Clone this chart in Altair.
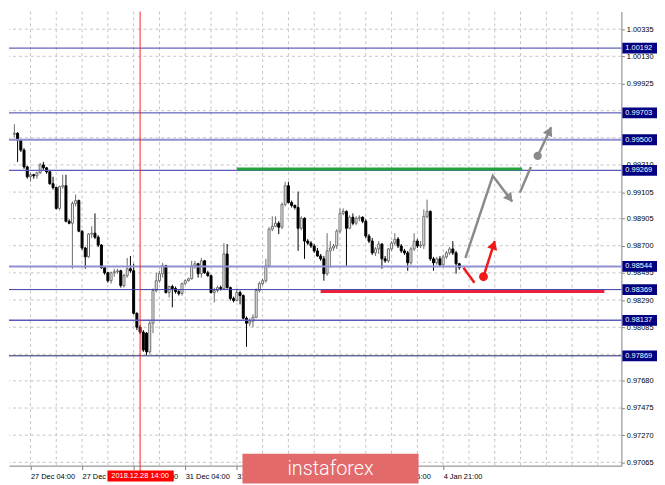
import math
import altair as alt
import pandas as pd

# ---------------- data (H1 candles, bar index = hours from 27 Dec 04:00) ----------------
FIRST_BAR = -7
opens = [0.99393, 0.99505, 0.99542, 0.99549, 0.99497, 0.99422, 0.99295, 0.99221, 0.99236, 0.99228,
         0.99251, 0.99310, 0.99288, 0.99258, 0.99168, 0.99139, 0.98982, 0.99146, 0.99153, 0.98885,
         0.98870, 0.99019, 0.99041, 0.98810, 0.98683, 0.98616, 0.98788, 0.98795, 0.98765, 0.98705,
         0.98534, 0.98496, 0.98436, 0.98496, 0.98504, 0.98511, 0.98399, 0.98474, 0.98526, 0.98511,
         0.98190, 0.98085, 0.98048, 0.98040, 0.97899, 0.98115, 0.98362, 0.98436, 0.98489, 0.98549,
         0.98347, 0.98392, 0.98377, 0.98354, 0.98339, 0.98414, 0.98436, 0.98451, 0.98549, 0.98564,
         0.98489, 0.98586, 0.98496, 0.98474, 0.98347, 0.98362, 0.98384, 0.98377, 0.98638, 0.98384,
         0.98302, 0.98287, 0.98347, 0.98324, 0.98153, 0.98115, 0.98130, 0.98160, 0.98362, 0.98414,
         0.98436, 0.98549, 0.98825, 0.98847, 0.98870, 0.98840, 0.99012, 0.99153, 0.99026, 0.99004,
         0.98989, 0.98832, 0.98907, 0.98735, 0.98720, 0.98698, 0.98661, 0.98623, 0.98601, 0.98489,
         0.98661, 0.98683, 0.98698, 0.98810, 0.98944, 0.98959, 0.98832, 0.98915, 0.98870, 0.98907,
         0.98915, 0.98885, 0.98773, 0.98735, 0.98646, 0.98676, 0.98713, 0.98601, 0.98586, 0.98676,
         0.98720, 0.98750, 0.98698, 0.98661, 0.98646, 0.98571, 0.98676, 0.98735, 0.98698, 0.98705,
         0.98922, 0.98959, 0.98601, 0.98571, 0.98601, 0.98556, 0.98616, 0.98646, 0.98676, 0.98646,
         0.98564]
highs = [0.99535, 0.99609, 0.99617, 0.99557, 0.99505, 0.99437, 0.99303, 0.99251, 0.99243, 0.99258,
         0.99325, 0.99333, 0.99295, 0.99273, 0.99221, 0.99146, 0.99153, 0.99236, 0.99236, 0.98900,
         0.99034, 0.99086, 0.99049, 0.98817, 0.98690, 0.98795, 0.98847, 0.98944, 0.98780, 0.98713,
         0.98541, 0.98504, 0.98504, 0.98526, 0.98526, 0.98519, 0.98489, 0.98608, 0.98623, 0.98564,
         0.98197, 0.98100, 0.98063, 0.98048, 0.98138, 0.98377, 0.98496, 0.98511, 0.98571, 0.98556,
         0.98399, 0.98406, 0.98392, 0.98369, 0.98421, 0.98444, 0.98459, 0.98586, 0.98586, 0.98571,
         0.98608, 0.98593, 0.98511, 0.98481, 0.98384, 0.98399, 0.98399, 0.98720, 0.98713, 0.98392,
         0.98317, 0.98377, 0.98362, 0.98332, 0.98167, 0.98153, 0.98182, 0.98377, 0.98429, 0.98451,
         0.98601, 0.98840, 0.98922, 0.98922, 0.98885, 0.99026, 0.99183, 0.99183, 0.99041, 0.99012,
         0.99109, 0.98922, 0.98915, 0.98750, 0.98735, 0.98713, 0.98683, 0.98638, 0.98623, 0.98795,
         0.98735, 0.98713, 0.98825, 0.98982, 0.98982, 0.98967, 0.98930, 0.98944, 0.98922, 0.98930,
         0.98922, 0.98900, 0.98788, 0.98758, 0.98690, 0.98735, 0.98720, 0.98623, 0.98683, 0.98735,
         0.98795, 0.98765, 0.98713, 0.98676, 0.98661, 0.98690, 0.98795, 0.98750, 0.98735, 0.98974,
         0.99049, 0.98967, 0.98616, 0.98616, 0.98623, 0.98631, 0.98661, 0.98690, 0.98735, 0.98661,
         0.98571]
lows = [0.99348, 0.99490, 0.99520, 0.99333, 0.99408, 0.99281, 0.99206, 0.99183, 0.99206, 0.99206,
        0.99243, 0.99273, 0.99243, 0.99161, 0.99124, 0.98974, 0.98967, 0.99131, 0.98877, 0.98862,
        0.98526, 0.98997, 0.98802, 0.98668, 0.98526, 0.98608, 0.98758, 0.98750, 0.98690, 0.98526,
        0.98481, 0.98421, 0.98414, 0.98466, 0.98489, 0.98384, 0.98384, 0.98459, 0.98496, 0.98182,
        0.98063, 0.98033, 0.97899, 0.97876, 0.97884, 0.98040, 0.98347, 0.98421, 0.98459, 0.98339,
        0.98309, 0.98235, 0.98339, 0.98324, 0.98324, 0.98406, 0.98429, 0.98444, 0.98526, 0.98459,
        0.98459, 0.98489, 0.98466, 0.98339, 0.98272, 0.98347, 0.98362, 0.98369, 0.98377, 0.98287,
        0.98272, 0.98280, 0.98257, 0.98145, 0.97936, 0.98093, 0.98085, 0.98153, 0.98347, 0.98399,
        0.98421, 0.98534, 0.98810, 0.98840, 0.98788, 0.98825, 0.98997, 0.99019, 0.98989, 0.98974,
        0.98661, 0.98817, 0.98601, 0.98705, 0.98683, 0.98646, 0.98616, 0.98586, 0.98436, 0.98474,
        0.98534, 0.98661, 0.98676, 0.98795, 0.98930, 0.98549, 0.98825, 0.98855, 0.98855, 0.98885,
        0.98870, 0.98758, 0.98720, 0.98631, 0.98623, 0.98638, 0.98526, 0.98571, 0.98571, 0.98661,
        0.98705, 0.98683, 0.98646, 0.98631, 0.98511, 0.98556, 0.98661, 0.98683, 0.98683, 0.98676,
        0.98907, 0.98586, 0.98511, 0.98556, 0.98541, 0.98541, 0.98601, 0.98631, 0.98631, 0.98489,
        0.98519]
closes = [0.99505, 0.99542, 0.99549, 0.99497, 0.99422, 0.99295, 0.99221, 0.99236, 0.99228, 0.99251,
          0.99310, 0.99288, 0.99258, 0.99168, 0.99139, 0.98982, 0.99146, 0.99153, 0.98885, 0.98870,
          0.99019, 0.99041, 0.98810, 0.98683, 0.98616, 0.98788, 0.98795, 0.98765, 0.98705, 0.98534,
          0.98496, 0.98436, 0.98496, 0.98504, 0.98511, 0.98399, 0.98474, 0.98526, 0.98511, 0.98190,
          0.98085, 0.98048, 0.97913, 0.97899, 0.98115, 0.98362, 0.98436, 0.98489, 0.98549, 0.98347,
          0.98392, 0.98377, 0.98354, 0.98339, 0.98414, 0.98436, 0.98451, 0.98549, 0.98564, 0.98489,
          0.98586, 0.98496, 0.98474, 0.98347, 0.98362, 0.98384, 0.98377, 0.98638, 0.98384, 0.98302,
          0.98287, 0.98347, 0.98324, 0.98153, 0.98115, 0.98130, 0.98160, 0.98362, 0.98414, 0.98436,
          0.98549, 0.98825, 0.98847, 0.98870, 0.98840, 0.99012, 0.99153, 0.99026, 0.99004, 0.98989,
          0.98832, 0.98907, 0.98735, 0.98720, 0.98698, 0.98661, 0.98623, 0.98601, 0.98489, 0.98661,
          0.98683, 0.98698, 0.98810, 0.98944, 0.98959, 0.98832, 0.98915, 0.98870, 0.98907, 0.98915,
          0.98885, 0.98773, 0.98735, 0.98646, 0.98676, 0.98713, 0.98601, 0.98586, 0.98676, 0.98720,
          0.98750, 0.98698, 0.98661, 0.98646, 0.98571, 0.98676, 0.98735, 0.98698, 0.98705, 0.98922,
          0.98959, 0.98601, 0.98571, 0.98601, 0.98556, 0.98616, 0.98646, 0.98676, 0.98646, 0.98564,
          0.98534]

level_prices = [1.00192, 0.99703, 0.99500, 0.99269, 0.98544, 0.98369, 0.98137, 0.97869]
# price grid (every step) and the axis labels that are not covered by a level tag
grid_prices = [1.00335, 1.00130, 0.99925, 0.99720, 0.99515, 0.99310, 0.99105, 0.98905, 0.98700,
               0.98495, 0.98290, 0.98085, 0.97880, 0.97680, 0.97475, 0.97270, 0.97065]
price_labels = [1.00335, 1.00130, 0.99925, 0.99310, 0.99105, 0.98905, 0.98700,
                0.98495, 0.98290, 0.98085, 0.97680, 0.97475, 0.97270, 0.97065]
time_tick_bars = [0, 16, 32, 48, 64, 112, 128]
time_tick_labels = ["27 Dec 04:00", "27 Dec 20:00", "28 Dec 12:00", "31 Dec 04:00", "31 Dec 20:00",
                    "3 Jan 16:00", "4 Jan 21:00"]
grid_bars = list(range(0, 184, 8))

resistance_price = 0.99280          # green
resistance_bars = [64, 152.5]
support_price = 0.98355             # red
support_bars = [90, 178]
marker_bar = 34
marker_label = "2018.12.28 14:00"

# forecast paths (bar, price)
gray_path1_bars = [134.9, 143.4, 149.4]
gray_path1_prices = [0.98608, 0.99228, 0.99034]
gray_path2_bars = [151.8, 155.2]
gray_path2_prices = [0.99101, 0.99295]
gray_path3_bars = [157.3, 161.5]
gray_path3_prices = [0.99378, 0.99594]
red_path1_bars = [134.3, 137.7]
red_path1_prices = [0.98534, 0.98421]
red_path2_bars = [140.5, 144.0]
red_path2_prices = [0.98466, 0.98735]

# ---------------- styles / layout ----------------
level_colors = ["#3c3ca8", "#3c3ca8", "#9090d0", "#5a5abc", "#9090d0", "#3c3ca8", "#5a5abc", "#20206a"]
level_widths = [1, 1, 2, 1.5, 2, 1, 1.5, 1]
GRAY = "#8a8a8a"
RED = "#f01818"
FONT = "Liberation Sans"
W, H = 619, 459
X_DOMAIN = [-5.13, 181.74]
Y_DOMAIN = [0.97040, 1.00468]
SX = W / (X_DOMAIN[1] - X_DOMAIN[0])
SY = H / (Y_DOMAIN[1] - Y_DOMAIN[0])

xs = alt.Scale(domain=X_DOMAIN, nice=False, zero=False)
ys = alt.Scale(domain=Y_DOMAIN, nice=False, zero=False)

label_map = "{" + ",".join("'%d':'%s'" % (b, s) for b, s in zip(time_tick_bars, time_tick_labels)) + "}"
ax_x = alt.Axis(values=time_tick_bars, labelExpr=label_map + "[toString(round(datum.value))]",
                labelAlign="left", labelFont=FONT, labelFontSize=7.5, labelColor="#000000",
                labelPadding=3, labelOverlap=False, labelFlush=False, tickSize=4,
                tickColor="#808080", domainColor="#808080", grid=False, title=None)
ax_y = alt.Axis(orient="right", values=price_labels, format=".5f", labelFont=FONT,
                labelFontSize=7.5, labelColor="#000000", labelPadding=2, labelOverlap=False,
                labelFlush=False, tickSize=3, tickColor="#808080", domainColor="#808080",
                grid=False, title=None)

def X(field):
    return alt.X(field, type="quantitative", scale=xs, axis=ax_x)

def Y(field):
    return alt.Y(field, type="quantitative", scale=ys, axis=ax_y)

# ---------------- frames ----------------
candles = pd.DataFrame({
    "bar": list(range(FIRST_BAR, FIRST_BAR + len(opens))),
    "open": opens, "high": highs, "low": lows, "close": closes,
})
candles = candles[candles["bar"] >= X_DOMAIN[0]]

hgrid = pd.DataFrame({"p": grid_prices})
vgrid = pd.DataFrame({"bar": grid_bars})
levels = pd.DataFrame({"p": level_prices, "col": level_colors, "w": level_widths,
                       "txt": ["%.5f" % v for v in level_prices]})

def path_frame(groups):
    rows = []
    for gi, (bars, prices) in enumerate(groups):
        for i, (b, p) in enumerate(zip(bars, prices)):
            rows.append({"seg": gi, "i": i, "bar": b, "p": p})
    return pd.DataFrame(rows)

def head(bars, prices, back=4.0):
    dx = (bars[-1] - bars[-2]) * SX
    dy = -(prices[-1] - prices[-2]) * SY
    ln = math.hypot(dx, dy)
    ang = math.degrees(math.atan2(dx, -dy)) % 360
    b = bars[-1] - dx / ln * back / SX
    p = prices[-1] + dy / ln * back / SY
    return {"bar": b, "p": p, "angle": ang}

gray_lines = path_frame([(gray_path1_bars, gray_path1_prices), (gray_path2_bars, gray_path2_prices),
                         (gray_path3_bars, gray_path3_prices)])
red_lines = path_frame([(red_path1_bars, red_path1_prices), (red_path2_bars, red_path2_prices)])
gray_heads = pd.DataFrame([head(gray_path1_bars, gray_path1_prices), head(gray_path3_bars, gray_path3_prices)])
red_heads = pd.DataFrame([head(red_path2_bars, red_path2_prices)])
gray_dot = pd.DataFrame({"bar": [gray_path3_bars[0]], "p": [gray_path3_prices[0]]})
red_dot = pd.DataFrame({"bar": [red_path2_bars[0]], "p": [red_path2_prices[0]]})

res = pd.DataFrame({"b0": [resistance_bars[0]], "b1": [resistance_bars[1]], "p": [resistance_price]})
sup = pd.DataFrame({"b0": [support_bars[0]], "b1": [support_bars[1]], "p": [support_price]})
marker = pd.DataFrame({"bar": [marker_bar], "txt": [marker_label]})
brand = pd.DataFrame({"txt": ["instaforex"]})

# ---------------- layers ----------------
hgrid_l = alt.Chart(hgrid).mark_rule(color="#c4c4c4", strokeDash=[3, 3], strokeWidth=1).encode(y=Y("p"))
vgrid_l = alt.Chart(vgrid).mark_rule(color="#c4c4c4", strokeDash=[3, 3], strokeWidth=1).encode(x=X("bar"))

bull = alt.datum.close >= alt.datum.open
wick_l = alt.Chart(candles).mark_rule(strokeWidth=1, clip=True).encode(
    x=X("bar"), y=Y("low"), y2="high",
    color=alt.condition(bull, alt.value("#6a6a6a"), alt.value("#000000")))
body_l = alt.Chart(candles).mark_bar(size=2, strokeWidth=1, clip=True).encode(
    x=X("bar"), y=Y("open"), y2="close",
    fill=alt.condition(bull, alt.value("#ffffff"), alt.value("#000000")),
    stroke=alt.condition(bull, alt.value("#6a6a6a"), alt.value("#000000")))

level_l = alt.Chart(levels).mark_rule().encode(
    y=Y("p"), color=alt.Color("col:N", scale=None), strokeWidth=alt.StrokeWidth("w:Q", scale=None))

res_l = alt.Chart(res).mark_rule(color="#23a33c", strokeWidth=3).encode(x=X("b0"), x2="b1", y=Y("p"))
sup_l = alt.Chart(sup).mark_rule(color="#e8203c", strokeWidth=3).encode(x=X("b0"), x2="b1", y=Y("p"))

vline_l = alt.Chart(marker).mark_rule(color="#ff2020", strokeWidth=1).encode(
    x=X("bar"), y=alt.value(0), y2=alt.value(H + 6))

gray_line_l = alt.Chart(gray_lines).mark_line(color=GRAY, strokeWidth=2.5).encode(
    x=X("bar"), y=Y("p"), detail="seg:N", order="i:Q")
red_line_l = alt.Chart(red_lines).mark_line(color=RED, strokeWidth=2.5).encode(
    x=X("bar"), y=Y("p"), detail="seg:N", order="i:Q")
gray_head_l = alt.Chart(gray_heads).mark_point(shape="triangle-up", filled=True, opacity=1,
                                                color=GRAY, size=110).encode(
    x=X("bar"), y=Y("p"), angle=alt.Angle("angle:Q", scale=None))
red_head_l = alt.Chart(red_heads).mark_point(shape="triangle-up", filled=True, opacity=1,
                                              color=RED, size=110).encode(
    x=X("bar"), y=Y("p"), angle=alt.Angle("angle:Q", scale=None))
gray_dot_l = alt.Chart(gray_dot).mark_point(shape="circle", filled=True, opacity=1, color=GRAY,
                                            size=70).encode(x=X("bar"), y=Y("p"))
red_dot_l = alt.Chart(red_dot).mark_point(shape="circle", filled=True, opacity=1, color=RED,
                                          size=80).encode(x=X("bar"), y=Y("p"))

tag_box_l = alt.Chart(levels).mark_rect(color="#000080", yOffset=-5.5, y2Offset=5.5).encode(
    x=alt.value(W + 1), x2=alt.value(W + 36), y=Y("p"), y2="p")
tag_txt_l = alt.Chart(levels).mark_text(color="#ffffff", align="left", baseline="middle",
                                        font=FONT, fontSize=7.5).encode(
    x=alt.value(W + 4), y=Y("p"), text="txt:N")

mk_box_l = alt.Chart(marker).mark_rect(color="#ff0000", xOffset=-33, x2Offset=34).encode(
    x=X("bar"), x2="bar", y=alt.value(H + 5), y2=alt.value(H + 16))
mk_txt_l = alt.Chart(marker).mark_text(color="#ffffff", align="center", baseline="middle",
                                       font=FONT, fontSize=7.5).encode(
    x=X("bar"), y=alt.value(H + 10.5), text="txt:N")

brand_box_l = alt.Chart(brand).mark_rect(color="#e26a6a").encode(
    x=alt.value(236), x2=alt.value(414), y=alt.value(447), y2=alt.value(477))
brand_txt_l = alt.Chart(brand).mark_text(color="#ffffff", align="center", baseline="middle",
                                         font="Roboto", fontWeight=300, fontSize=20).encode(
    x=alt.value(325), y=alt.value(462), text="txt:N")

chart = alt.layer(
    hgrid_l, vgrid_l, wick_l, body_l, level_l, res_l, sup_l, vline_l,
    gray_line_l, red_line_l, gray_head_l, red_head_l, gray_dot_l, red_dot_l,
    tag_box_l, tag_txt_l, mk_box_l, mk_txt_l, brand_box_l, brand_txt_l,
).properties(width=W, height=H, padding=0, background="#ffffff").configure_view(stroke=None)

chart.save("out.html", embed_options={"renderer": "svg", "actions": False})
